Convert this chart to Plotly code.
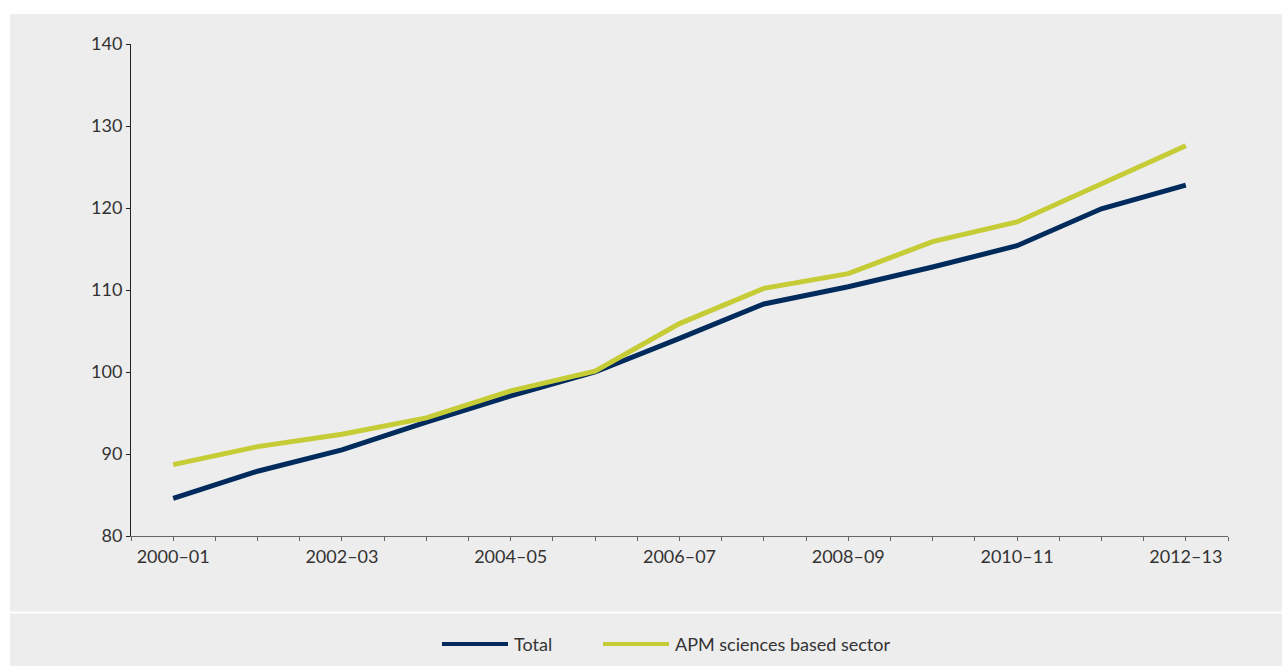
import plotly.graph_objects as go

# Financial years on the horizontal axis
years = ["2000–01", "2001–02", "2002–03", "2003–04", "2004–05", "2005–06", "2006–07",
         "2007–08", "2008–09", "2009–10", "2010–11", "2011–12", "2012–13"]

# Index values (2005–06 = 100)
total = [84.6, 87.9, 90.5, 93.9, 97.1, 100.0, 104.1, 108.3, 110.4, 112.8, 115.4, 119.9, 122.8]
apm_sciences = [88.7, 90.9, 92.4, 94.4, 97.7, 100.1, 105.9, 110.2, 112.0, 115.9, 118.3, 122.9, 127.6]

series_names = ["Total", "APM sciences based sector"]
series_colors = ["#002b5c", "#c5cc36"]

y_ticks = [80, 90, 100, 110, 120, 130, 140]

W, H = 1282, 666
L, R, T, B = 131, 54, 44, 130
PW, PH = W - L - R, H - T - B


def px_x(p):
    return (p - L) / PW


def px_y(p):
    return (H - B - p) / PH


FONT = "Lato, 'Open Sans', sans-serif"
FONT_SIZE = 18
TEXT = "#333333"

xs = list(range(len(years)))

fig = go.Figure()
for name, vals, col in zip(series_names, [total, apm_sciences], series_colors):
    fig.add_trace(go.Scatter(x=xs, y=vals, name=name, mode="lines",
                             line=dict(color=col, width=5),
                             showlegend=False, hoverinfo="x+y+name"))

# ticks every half step, labels every second year
tickvals = []
ticktext = []
for i in range(len(years) * 2 + 1):
    v = -0.5 + i * 0.5
    tickvals.append(v)
    if v == int(v) and int(v) % 2 == 0:
        ticktext.append(years[int(v)])
    else:
        ticktext.append("")

shapes = [
    # grey panel
    dict(type="rect", xref="paper", yref="paper", layer="below",
         x0=px_x(10), x1=px_x(W + 5), y0=px_y(14), y1=px_y(H + 5),
         fillcolor="#ededed", line=dict(width=0)),
    # separator above legend
    dict(type="line", xref="paper", yref="paper", layer="below",
         x0=px_x(10), x1=px_x(W + 5), y0=px_y(612.5), y1=px_y(612.5),
         line=dict(color="#ffffff", width=2)),
]

# legend drawn as line swatches and labels
legend_y = 644
legend_items = [(442, 508, 512), (603, 669, 673)]
annotations = []
for (x0, x1, tx), name, col in zip(legend_items, series_names, series_colors):
    shapes.append(dict(type="line", xref="paper", yref="paper",
                       x0=px_x(x0), x1=px_x(x1), y0=px_y(legend_y), y1=px_y(legend_y),
                       line=dict(color=col, width=4)))
    annotations.append(dict(xref="paper", yref="paper", x=px_x(tx), y=px_y(legend_y),
                            text=name, showarrow=False, xanchor="left", yanchor="middle",
                            font=dict(family=FONT, size=FONT_SIZE, color=TEXT)))

fig.update_layout(
    width=W, height=H,
    margin=dict(l=L, r=R, t=T, b=B, pad=0),
    paper_bgcolor="#ffffff",
    plot_bgcolor="rgba(0,0,0,0)",
    font=dict(family=FONT, size=FONT_SIZE, color=TEXT),
    shapes=shapes,
    annotations=annotations,
    xaxis=dict(range=[-0.5, len(years) - 0.5], tickmode="array",
               tickvals=tickvals, ticktext=ticktext,
               ticks="outside", ticklen=4, tickcolor="#666666", tickwidth=1,
               showline=True, linecolor="#666666", linewidth=1,
               showgrid=False, zeroline=False, fixedrange=True),
    yaxis=dict(range=[80, 140], tickmode="array", tickvals=y_ticks,
               ticks="outside", ticklen=4, tickcolor="#222222", tickwidth=1,
               showline=True, linecolor="#222222", linewidth=1,
               showgrid=False, zeroline=False, fixedrange=True),
)

fig.write_html("out.html")
